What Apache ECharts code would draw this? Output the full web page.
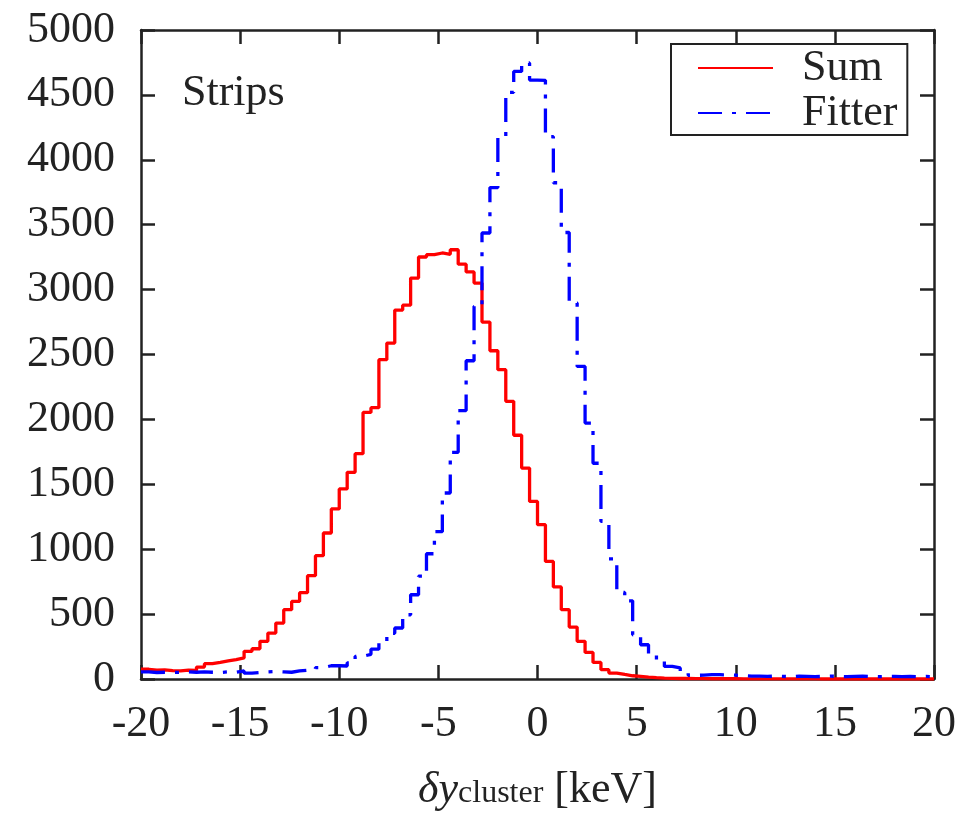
<!DOCTYPE html>
<html>
<head>
<meta charset="utf-8">
<script src="https://cdn.jsdelivr.net/npm/echarts@6/dist/echarts.min.js"></script>
<style>
  html, body { margin: 0; padding: 0; background: #fff; }
  #chart { width: 980px; height: 813px; }
</style>
</head>
<body>
<div id="chart"></div>
<script>
// Histogram binning: 100 bins of 0.4 keV from -20 to 20
const binStart = -20;
const binWidth = 0.4;
const xTicks = [-20, -15, -10, -5, 0, 5, 10, 15, 20];
const yTicks = [0, 500, 1000, 1500, 2000, 2500, 3000, 3500, 4000, 4500, 5000];
const seriesNames = ['Sum', 'Fitter'];

// "Sum" histogram counts (red, solid)
const sumCounts = [
  75, 68, 70, 65, 62, 68, 66, 92, 118, 128,
  139, 149, 162, 213, 233, 290, 354, 431, 534, 598,
  665, 796, 950, 1125, 1310, 1464, 1592, 1736, 2054, 2090,
  2460, 2588, 2842, 2880, 3089, 3251, 3269, 3282, 3272, 3307,
  3196, 3136, 3050, 2750, 2529, 2383, 2139, 1878, 1625, 1368,
  1189, 906, 709, 534, 400, 290, 205, 128, 72, 46,
  35, 25, 20, 14, 10, 7, 5, 4, 4, 3,
  3, 2, 2, 2, 2, 1, 1, 1, 1, 1,
  1, 1, 1, 1, 1, 0, 0, 0, 0, 0,
  0, 0, 0, 0, 0, 0, 0, 0, 0, 0
];

// "Fitter" histogram counts (blue, dash-dot)
const fitterCounts = [
  55, 50, 52, 50, 52, 55, 52, 55, 52, 50,
  55, 52, 62, 45, 50, 55, 58, 55, 52, 62,
  68, 72, 88, 102, 102, 100, 125, 175, 190, 230,
  290, 352, 393, 495, 649, 792, 965, 1135, 1433, 1746,
  2068, 2452, 2871, 3436, 3786, 4177, 4520, 4681, 4746, 4614,
  4612, 4178, 3823, 3440, 2897, 2408, 1972, 1662, 1214, 925,
  667, 602, 341, 264, 192, 140, 97, 85, 55, 28,
  30, 33, 33, 32, 30, 25, 22, 22, 20, 22,
  20, 18, 22, 20, 18, 20, 22, 20, 18, 20,
  22, 20, 18, 20, 20, 18, 20, 18, 20, 18
];

function toSteps(counts) {
  const pts = counts.map((c, i) => [+(binStart + i * binWidth).toFixed(2), c]);
  pts.push([+(binStart + counts.length * binWidth).toFixed(2), counts[counts.length - 1]]);
  return pts;
}

const FONT = '"Liberation Serif", "DejaVu Serif", serif';
const INK = '#222';

const chart = echarts.init(document.getElementById('chart'), null, { renderer: 'canvas' });

const xMin = xTicks[0], xMax = xTicks[xTicks.length - 1];
const yMin = yTicks[0], yMax = yTicks[yTicks.length - 1];
const xStep = xTicks[1] - xTicks[0];
const yStep = yTicks[1] - yTicks[0];

const axisLineStyle = { show: true, onZero: false, lineStyle: { color: INK, width: 2.5 } };
const tickStyle = { show: true, inside: true, length: 14, lineStyle: { color: INK, width: 2.5 } };
const plainNum = v => String(v);

chart.setOption({
  backgroundColor: '#fff',
  animation: false,
  title: {
    text: 'Strips',
    left: 177,
    top: 66,
    textStyle: { fontFamily: FONT, fontSize: 44, fontWeight: 'normal', color: INK }
  },
  legend: {
    orient: 'vertical',
    left: 671,
    top: 44,
    padding: [2, 10, 0, 26],
    itemWidth: 75,
    itemHeight: 14,
    itemGap: 1,
    borderColor: INK,
    borderWidth: 2,
    borderRadius: 0,
    itemStyle: { opacity: 0 },
    textStyle: { fontFamily: FONT, fontSize: 44, lineHeight: 40, color: INK, padding: [0, 0, 0, 24] },
    data: seriesNames
  },
  grid: { left: 141, top: 30, width: 793, height: 649, containLabel: false, outerBoundsMode: 'none' },
  xAxis: [
    {
      type: 'value', min: xMin, max: xMax, interval: xStep, position: 'bottom',
      axisLine: axisLineStyle, axisTick: tickStyle, splitLine: { show: false },
      axisLabel: { fontFamily: FONT, fontSize: 44, color: INK, margin: 23, formatter: plainNum },
      name: '{i|δy}{s|cluster}{n| [keV]}',
      nameLocation: 'middle',
      nameGap: 89,
      nameTextStyle: {
        rich: {
          i: { fontFamily: FONT, fontStyle: 'italic', fontSize: 44, color: INK, padding: [0, 0, 8, 0] },
          s: { fontFamily: FONT, fontSize: 32, color: INK },
          n: { fontFamily: FONT, fontSize: 44, color: INK, padding: [0, 0, 8, 0] }
        }
      }
    },
    {
      type: 'value', min: xMin, max: xMax, interval: xStep, position: 'top',
      axisLine: axisLineStyle, axisTick: tickStyle, splitLine: { show: false },
      axisLabel: { show: false }
    }
  ],
  yAxis: [
    {
      type: 'value', min: yMin, max: yMax, interval: yStep, position: 'left',
      axisLine: axisLineStyle, axisTick: tickStyle, splitLine: { show: false },
      axisLabel: { fontFamily: FONT, fontSize: 44, color: INK, margin: 26, formatter: plainNum }
    },
    {
      type: 'value', min: yMin, max: yMax, interval: yStep, position: 'right',
      axisLine: axisLineStyle, axisTick: tickStyle, splitLine: { show: false },
      axisLabel: { show: false }
    }
  ],
  series: [
    {
      name: seriesNames[0],
      type: 'line',
      step: 'end',
      symbol: 'none',
      data: toSteps(sumCounts),
      lineStyle: { color: '#ff0000', width: 3.3 },
      itemStyle: { color: '#ff0000' },
      z: 2
    },
    {
      name: seriesNames[1],
      type: 'line',
      step: 'end',
      symbol: 'none',
      data: toSteps(fitterCounts),
      lineStyle: { color: '#0000ff', width: 3.3, type: [24, 10, 4, 10] },
      itemStyle: { color: '#0000ff' },
      z: 3
    }
  ]
});
</script>
</body>
</html>
